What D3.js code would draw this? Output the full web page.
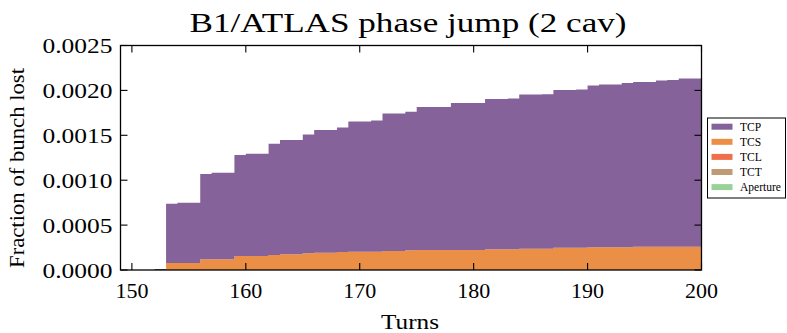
<!DOCTYPE html>
<html>
<head>
<meta charset="utf-8">
<script src="https://cdn.jsdelivr.net/npm/d3@7"></script>
<style>
  html, body { margin: 0; padding: 0; background: #fff; }
  svg { display: block; }
  text { font-family: "Liberation Serif", "DejaVu Serif", serif; fill: #000; }
</style>
</head>
<body>
<svg id="chart" width="787" height="333"></svg>
<script>
// Left edge of each one-turn bin
const turns = [152,153,154,155,156,157,158,159,160,161,162,163,164,165,166,167,168,169,170,171,172,173,174,175,
               176,177,178,179,180,181,182,183,184,185,186,187,188,189,190,191,192,193,194,195,196,197,198,199];

// Fraction of bunch lost on each collimator family, per turn
const tcs = [0,0.000078,0.000078,0.000078,0.000119,0.000119,0.000119,0.000156,0.000156,0.000156,0.000167,0.000176,
             0.000176,0.000186,0.000193,0.000193,0.000200,0.000204,0.000204,0.000204,0.000212,0.000212,0.000220,0.000223,
             0.000223,0.000223,0.000223,0.000223,0.000223,0.000231,0.000231,0.000231,0.000238,0.000238,0.000238,0.000249,
             0.000249,0.000249,0.000253,0.000253,0.000253,0.000253,0.000260,0.000260,0.000260,0.000260,0.000260,0.000260];
const tcp = [0,0.000659,0.000670,0.000670,0.000949,0.000964,0.000964,0.001124,0.001139,0.001139,0.001239,0.001271,
             0.001271,0.001324,0.001366,0.001366,0.001388,0.001451,0.001451,0.001462,0.001532,0.001532,0.001543,0.001593,
             0.001593,0.001593,0.001637,0.001637,0.001637,0.001674,0.001674,0.001679,0.001715,0.001715,0.001720,0.001756,
             0.001756,0.001761,0.001801,0.001812,0.001812,0.001830,0.001834,0.001834,0.001849,0.001857,0.001872,0.001872];
const tcl = turns.map(() => 0);
const tct = turns.map(() => 0);
const aperture = turns.map(() => 0);

const seriesNames = ["TCS", "TCL", "TCT", "Aperture", "TCP"];
const legendOrder = ["TCP", "TCS", "TCL", "TCT", "Aperture"];
const colors = { TCP: "#856299", TCS: "#eb8f46", TCL: "#f06f4a", TCT: "#bf9b75", Aperture: "#98d296" };

const xTicks = [150, 160, 170, 180, 190, 200];
const yTicks = [0, 0.0005, 0.0010, 0.0015, 0.0020, 0.0025];
const xDomain = [149, 200];
const yDomain = [0, 0.0025];

const titleText = "B1/ATLAS phase jump (2 cav)";
const xLabel = "Turns";
const yLabel = "Fraction of bunch lost";

const svg = d3.select("#chart");
const plot = { left: 120.5, right: 701.5, top: 45.5, bottom: 270 };

const x = d3.scaleLinear().domain(xDomain).range([plot.left, plot.right]);
const y = d3.scaleLinear().domain(yDomain).range([plot.bottom, plot.top]);

// Rows for stacking; an extra row closes the final bin at turn 200
const valuesBy = { TCS: tcs, TCL: tcl, TCT: tct, Aperture: aperture, TCP: tcp };
const rows = turns.map((t, i) => {
  const r = { turn: t };
  seriesNames.forEach(n => r[n] = valuesBy[n][i]);
  return r;
});
const last = Object.assign({}, rows[rows.length - 1], { turn: xDomain[1] });
rows.push(last);

const stacked = d3.stack().keys(seriesNames)(rows);

const area = d3.area()
  .curve(d3.curveStepAfter)
  .x(d => x(d.data.turn))
  .y0(d => y(d[0]))
  .y1(d => y(d[1]));

svg.append("g")
  .selectAll("path")
  .data(stacked)
  .join("path")
  .attr("d", area)
  .attr("fill", d => colors[d.key])
  .attr("stroke", "none");

// Thin baseline edge of the empty bin before the jump
svg.append("line")
  .attr("x1", x(turns[0])).attr("x2", x(turns[1]))
  .attr("y1", y(0) - 0.5).attr("y2", y(0) - 0.5)
  .attr("stroke", "#6b5a7a").attr("stroke-width", 1);

// Frame
svg.append("rect")
  .attr("x", plot.left).attr("y", plot.top)
  .attr("width", plot.right - plot.left).attr("height", plot.bottom - plot.top)
  .attr("fill", "none").attr("stroke", "#000").attr("stroke-width", 1.3);

const tickLen = 7;
const axes = svg.append("g").attr("stroke", "#000").attr("stroke-width", 1.1);
xTicks.forEach(t => {
  axes.append("line").attr("x1", x(t)).attr("x2", x(t)).attr("y1", plot.bottom).attr("y2", plot.bottom - tickLen);
  axes.append("line").attr("x1", x(t)).attr("x2", x(t)).attr("y1", plot.top).attr("y2", plot.top + tickLen);
});
yTicks.forEach(v => {
  axes.append("line").attr("x1", plot.left).attr("x2", plot.left + tickLen).attr("y1", y(v)).attr("y2", y(v));
  axes.append("line").attr("x1", plot.right).attr("x2", plot.right - tickLen).attr("y1", y(v)).attr("y2", y(v));
});

const tickFont = 22;
svg.append("g").selectAll("text")
  .data(xTicks).join("text")
  .attr("x", d => x(d)).attr("y", plot.bottom + 28)
  .attr("text-anchor", "middle")
  .attr("font-size", tickFont)
  .attr("textLength", 33).attr("lengthAdjust", "spacingAndGlyphs")
  .text(d => d3.format("d")(d));

svg.append("g").selectAll("text")
  .data(yTicks).join("text")
  .attr("x", plot.left - 8).attr("y", d => y(d) + 7.5)
  .attr("text-anchor", "end")
  .attr("font-size", tickFont)
  .attr("textLength", 70).attr("lengthAdjust", "spacingAndGlyphs")
  .text(d => d3.format(".4f")(d));

svg.append("text")
  .attr("x", 410).attr("y", 329)
  .attr("text-anchor", "middle").attr("font-size", 22)
  .attr("textLength", 58).attr("lengthAdjust", "spacingAndGlyphs")
  .text(xLabel);

svg.append("text")
  .attr("transform", "translate(24, 168) rotate(-90)")
  .attr("text-anchor", "middle").attr("font-size", 22)
  .attr("textLength", 200).attr("lengthAdjust", "spacingAndGlyphs")
  .text(yLabel);

svg.append("text")
  .attr("x", 408).attr("y", 32)
  .attr("text-anchor", "middle").attr("font-size", 28)
  .attr("textLength", 437).attr("lengthAdjust", "spacingAndGlyphs")
  .text(titleText);

// Legend
const lg = svg.append("g");
lg.append("rect")
  .attr("x", 707.5).attr("y", 118).attr("width", 78).attr("height", 80)
  .attr("fill", "#fff").attr("stroke", "#000").attr("stroke-width", 1);
legendOrder.forEach((name, i) => {
  const cy = 126.7 + i * 15.1;
  lg.append("rect")
    .attr("x", 711.5).attr("y", cy - 3).attr("width", 21).attr("height", 6)
    .attr("fill", colors[name]);
  lg.append("text")
    .attr("x", 740).attr("y", cy + 3.8)
    .attr("font-size", 11.5)
    .text(name);
});
</script>
</body>
</html>
